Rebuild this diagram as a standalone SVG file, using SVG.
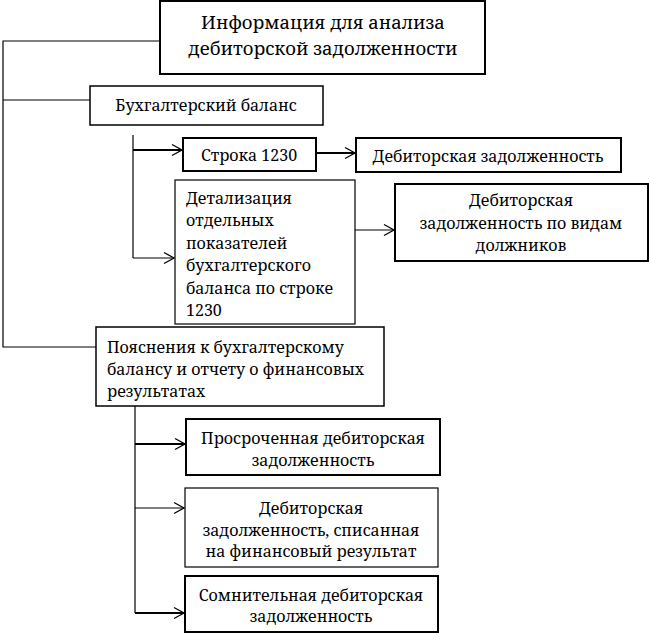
<svg xmlns="http://www.w3.org/2000/svg" width="650" height="633" viewBox="0 0 650 633">
<defs>
<style>
.box{fill:#fff;stroke:#000;stroke-width:1.5}
.thick{stroke-width:2}
.thin{stroke-width:1.2}
.c{text-anchor:middle}
.ln{fill:none;stroke:#000;stroke-width:1.2}
.lnb{fill:none;stroke:#000;stroke-width:2}
</style>
<marker id="ah" markerUnits="userSpaceOnUse" markerWidth="14" markerHeight="14" refX="12" refY="7" orient="auto">
<path d="M2,1.5 L12,7 L2,12.5" fill="none" stroke="#000" stroke-width="1.3"/>
</marker>
</defs>
<g id="connectors">
<path class="ln" d="M160,41 H3 V347 H96"/>
<path class="ln" d="M3,100 H90"/>
<path class="ln" d="M133,135 V258"/>
<path class="lnb" d="M133,150 H182" marker-end="url(#ah)"/>
<path class="ln" d="M133,258 H174" marker-end="url(#ah)"/>
<path class="lnb" d="M316,153 H355" marker-end="url(#ah)"/>
<path class="ln" d="M355,230 H394" marker-end="url(#ah)"/>
<path class="ln" d="M135,406 V613"/>
<path class="lnb" d="M135,444 H185" marker-end="url(#ah)"/>
<path class="ln" d="M135,508 H184" marker-end="url(#ah)"/>
<path class="lnb" d="M135,613 H184" marker-end="url(#ah)"/>
</g>
<g font-family="'Noto Serif', 'DejaVu Serif', serif" font-size="16" fill="#000">
<g id="n-title">
<rect class="box thick" x="160" y="1" width="325" height="73"/>
<text class="c" x="323" y="29" font-size="18.5">Информация для анализа</text>
<text class="c" x="323" y="55" font-size="18.5">дебиторской задолженности</text>
</g>
<g id="n-balance">
<rect class="box" x="90" y="86" width="233" height="39"/>
<text class="c" x="206" y="111">Бухгалтерский баланс</text>
</g>
<g id="n-line1230">
<rect class="box thick" x="183" y="138" width="133" height="33"/>
<text class="c" x="249" y="161">Строка 1230</text>
</g>
<g id="n-receivables">
<rect class="box thick" x="356" y="138" width="265" height="34"/>
<text class="c" x="488" y="162">Дебиторская задолженность</text>
</g>
<g id="n-detail">
<rect class="box thin" x="175" y="180" width="180" height="144"/>
<text x="186" y="204">Детализация</text>
<text x="186" y="226">отдельных</text>
<text x="186" y="249">показателей</text>
<text x="186" y="271">бухгалтерского</text>
<text x="186" y="294">баланса по строке</text>
<text x="186" y="316">1230</text>
</g>
<g id="n-debtors">
<rect class="box thick" x="395" y="184" width="253" height="77"/>
<text class="c" x="521" y="206">Дебиторская</text>
<text class="c" x="521" y="229">задолженность по видам</text>
<text class="c" x="521" y="251">должников</text>
</g>
<g id="n-notes">
<rect class="box" x="96" y="327" width="288" height="79"/>
<text x="107" y="353">Пояснения к бухгалтерскому</text>
<text x="107" y="375">балансу и отчету о финансовых</text>
<text x="107" y="397">результатах</text>
</g>
<g id="n-overdue">
<rect class="box thick" x="186" y="419" width="254" height="56"/>
<text class="c" x="313" y="444">Просроченная дебиторская</text>
<text class="c" x="313" y="466">задолженность</text>
</g>
<g id="n-writtenoff">
<rect class="box thin" x="185" y="488" width="253" height="79"/>
<text class="c" x="311" y="514">Дебиторская</text>
<text class="c" x="311" y="536">задолженность, списанная</text>
<text class="c" x="311" y="557">на финансовый результат</text>
</g>
<g id="n-doubtful">
<rect class="box thick" x="185" y="576" width="253" height="56"/>
<text class="c" x="311" y="601">Сомнительная дебиторская</text>
<text class="c" x="311" y="622">задолженность</text>
</g>
</g>
</svg>
